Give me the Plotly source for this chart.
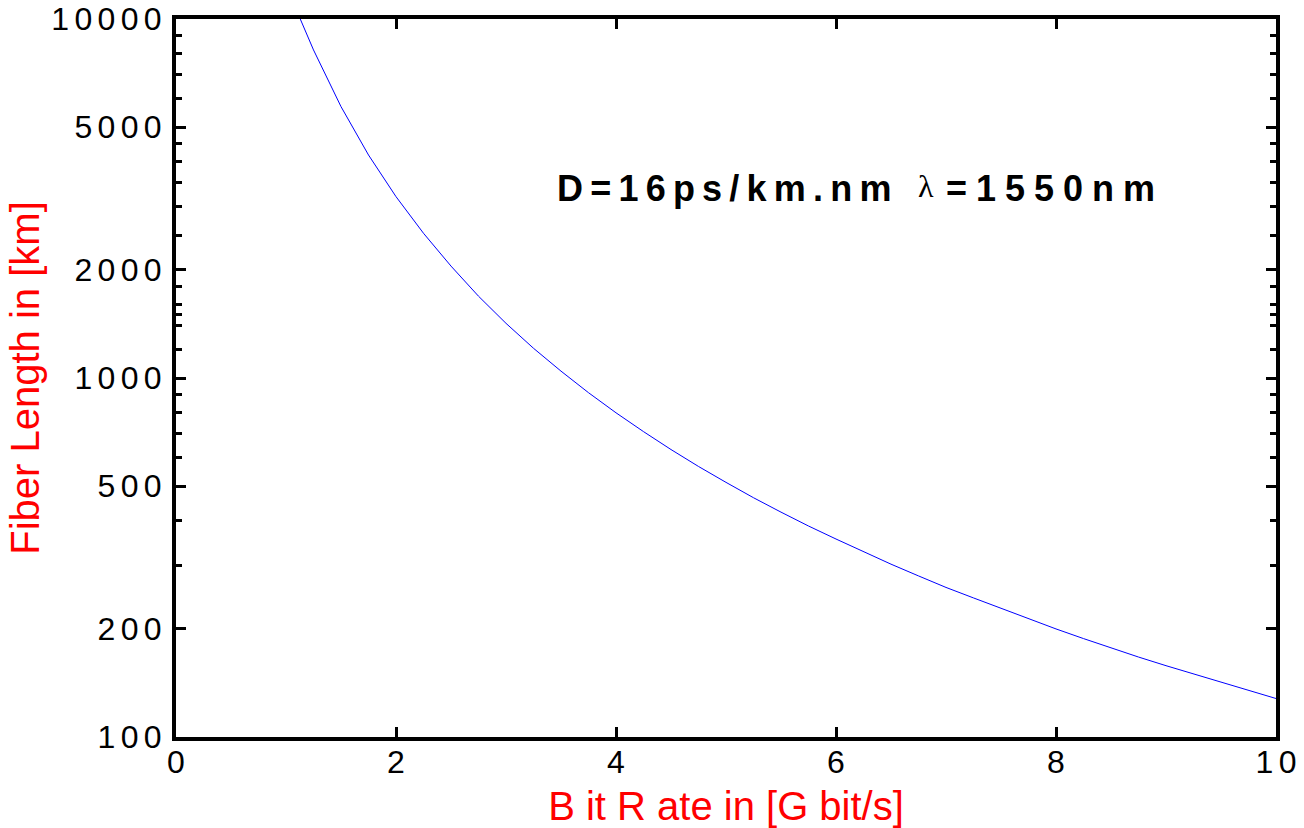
import plotly.graph_objects as go

# Data
bit_rate = [1.1, 1.25, 1.5, 1.75, 2.0, 2.25, 2.5, 2.75, 3.0, 3.25, 3.5, 3.75, 4.0, 4.25, 4.5,
            4.75, 5.0, 5.25, 5.5, 5.75, 6.0, 6.25, 6.5, 6.75, 7.0, 7.25, 7.5, 7.75, 8.0,
            8.25, 8.5, 8.75, 9.0, 9.25, 9.5, 9.75, 10.0]
fiber_length = [10500, 8200, 5700, 4180, 3200, 2530, 2050, 1690, 1420, 1210, 1045, 910, 800, 709, 632,
                567, 512, 464, 423, 387, 356, 328, 303, 281, 261, 244, 228, 213, 200,
                188, 177, 167, 158, 150, 142, 135, 128]

x_tickvals = [0, 2, 4, 6, 8, 10]
y_tickvals = [100, 200, 500, 1000, 2000, 5000, 10000]
y_minor_vals = [300, 400, 600, 700, 800, 900, 1200, 1400, 1500, 1600, 1800,
                2500, 3000, 3500, 4000, 4500, 6000, 7000, 8000, 9000]

SP = "\u2006"


def spaced(s, sep=SP):
    return sep.join(list(s))


fig = go.Figure()
fig.add_trace(go.Scatter(x=bit_rate, y=fiber_length, mode="lines",
                         line=dict(color="#0000ff", width=1), showlegend=False))

axis_common = dict(
    showline=True, linecolor="black", linewidth=4, mirror="allticks",
    ticks="inside", ticklen=10, tickwidth=3, tickcolor="black",
    showgrid=False, zeroline=False, automargin=False,
    tickfont=dict(family="Liberation Sans, Arial, sans-serif", size=32, color="black"),
)

fig.update_xaxes(
    range=[0, 10], tickmode="array", tickvals=x_tickvals,
    ticktext=[spaced(str(v)) for v in x_tickvals],
    ticklabelstandoff=-6,
    title=dict(text="B it R ate in [G bit/s]",
               font=dict(family="Liberation Sans, Arial, sans-serif", size=40, color="red"),
               standoff=16),
    **axis_common,
)
fig.update_yaxes(
    type="log", range=[2, 4], tickmode="array", tickvals=y_tickvals,
    ticktext=[spaced(str(v)) for v in y_tickvals],
    ticklabelstandoff=4,
    minor=dict(tickmode="array", tickvals=y_minor_vals, ticks="inside",
               ticklen=6, tickwidth=3, tickcolor="black", showgrid=False),
    title=dict(text="Fiber Length in [km]",
               font=dict(family="Liberation Sans, Arial, sans-serif", size=40, color="red"),
               standoff=0),
    **axis_common,
)

ann_font = dict(family="Liberation Sans, Arial, sans-serif", size=36, color="black")
fig.add_annotation(text="<b>" + spaced("D=16ps/km.nm", "\u2009") + "</b>", xref="paper", yref="paper",
                   x=(555 - 176) / 1100, y=1 - (188 - 19) / 718, xanchor="left", yanchor="middle",
                   showarrow=False, font=ann_font)
fig.add_annotation(text="λ", xref="paper", yref="paper",
                   x=(916 - 176) / 1100, y=1 - (186 - 19) / 718, xanchor="left", yanchor="middle",
                   showarrow=False,
                   font=dict(family="Liberation Serif, Times New Roman, serif", size=32, color="black"))
fig.add_annotation(text="<b>" + spaced("=1550nm", "\u2005") + "</b>", xref="paper", yref="paper",
                   x=(944 - 176) / 1100, y=1 - (188 - 19) / 718, xanchor="left", yanchor="middle",
                   showarrow=False, font=ann_font)

fig.update_layout(
    width=1304, height=828,
    margin=dict(l=176, r=28, t=19, b=91),
    paper_bgcolor="white", plot_bgcolor="white",
)

fig.write_html("out.html")
